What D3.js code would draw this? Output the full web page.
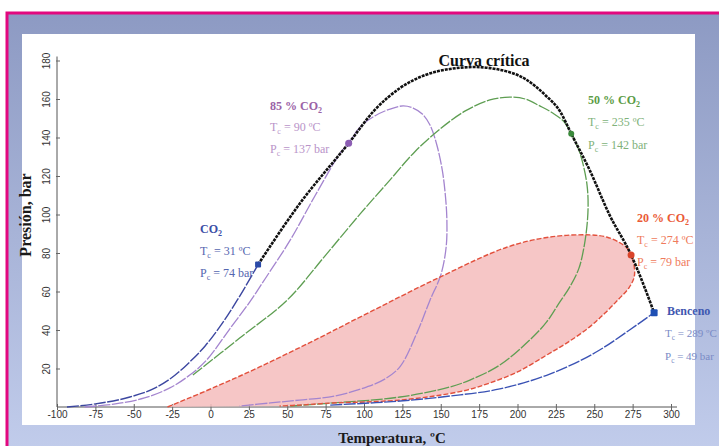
<!DOCTYPE html>
<html>
<head>
<meta charset="utf-8">
<script src="https://cdn.jsdelivr.net/npm/d3@7"></script>
<style>
  html, body { margin: 0; padding: 0; background: #ffffff; }
  svg { display: block; }
</style>
</head>
<body>
<div id="chart"></div>
<script>
// ---------- DATA ----------
const xTicks = [-100, -75, -50, -25, 0, 25, 50, 75, 100, 125, 150, 175, 200, 225, 250, 275, 300];
const yTicks = [20, 40, 60, 80, 100, 120, 140, 160, 180];

// Critical curve (Curva crítica)
const criticalT = [31, 58, 90, 107, 123.5, 140, 156, 172, 189, 205, 218, 228, 235, 247, 260, 274, 289];
const criticalP = [74, 105.5, 137, 154.3, 165.7, 172.5, 175.6, 176.6, 175.1, 170.4, 162.1, 153.2, 142, 123.1, 99.7, 79, 49];

// Pure CO2 vapour-pressure curve
const co2T = [-93.5, -75, -52.5, -36, -23, -13.5, -3.5, 6, 17.5, 31];
const co2P = [0, 1.6, 5.2, 9.9, 16.6, 23.4, 31.7, 41.6, 55.6, 74];

// 85 % CO2 envelope
const p85T = [-82, -62, -43, -26.5, -13.5, -2.5, 12.5, 25.5, 35.5, 52, 68, 84.5, 90,
              97.5, 107, 117, 125.5, 132, 138, 143, 147.5, 151, 153, 154, 153.5, 150, 143, 134.5, 123.5, 113.5, 102, 81, 58, 39, 19];
const p85P = [0, 1.6, 4.7, 9.9, 16.6, 24.4, 40.5, 54.5, 66.5, 86.8, 109.6, 131.9, 137,
              145.5, 151.2, 154.8, 156.4, 155.3, 152.2, 146.5, 136, 123, 110, 97, 83, 68.5, 55.5, 38.5, 21, 14.5, 10.5, 5.7, 3.6, 2.1, 0.5];

// 50 % CO2 envelope
const p50T = [-11.5, 19, 50, 74.5, 97.5, 117, 133, 149.5, 166, 182, 195, 205, 214.5, 223, 230.5, 235,
              239.5, 242.5, 245.3, 246, 245.3, 243.3, 240, 234, 227.5, 219, 208, 188.5, 169, 156, 123.5, 80, 52];
const p50P = [16.6, 35.8, 55.6, 78.4, 100.3, 118, 132.5, 144.4, 153.8, 159.5, 161, 160, 156.4, 152.7, 148, 142,
              134.5, 126.8, 115.3, 105, 94.5, 83, 72, 62.3, 54.5, 44.2, 34.8, 21.8, 14, 10.4, 5.2, 2.1, 0.5];

// 20 % CO2 envelope
const r20T = [-28, 3, 32, 68, 104, 149.5, 193, 221, 247, 258, 267, 272, 274,
              276, 276, 272.5, 266, 257, 247, 232, 218, 200, 182, 167, 146, 123.5, 101, 80, 58, 45];
const r20P = [0, 10.4, 20.8, 34.8, 49.4, 67.5, 83, 88.3, 89.4, 88.3, 85.2, 82.1, 79,
              73.2, 67.5, 61.8, 56.1, 48.8, 41.6, 33.2, 26.5, 18.2, 12.5, 8.8, 5.7, 3.6, 2.6, 2.1, 1, 0.5];

// Benzene vapour-pressure curve
const benzT = [78, 104, 123.5, 156, 188.5, 221, 253.5, 273, 289];
const benzP = [1, 2.1, 3.1, 5.7, 9.4, 17.1, 29.6, 40, 49];

// Critical points
const critNames = ["CO2", "85", "50", "20", "Benceno"];
const critT = [31, 90, 235, 274, 289];
const critP = [74, 137, 142, 79, 49];

// ---------- LAYOUT ----------
const W = 719, H = 446;
const svg = d3.select("#chart").append("svg").attr("width", W).attr("height", H);

const defs = svg.append("defs");
const grad = defs.append("linearGradient").attr("id", "bg").attr("x1", 0).attr("y1", 0).attr("x2", 0).attr("y2", 1);
grad.append("stop").attr("offset", "0%").attr("stop-color", "#8d9ac3");
grad.append("stop").attr("offset", "100%").attr("stop-color", "#c2cdec");

svg.append("rect").attr("x", 0).attr("y", 0).attr("width", W).attr("height", H).attr("fill", "#ffffff");
svg.append("rect").attr("x", 7).attr("y", 13).attr("width", W).attr("height", H)
  .attr("fill", "url(#bg)").attr("stroke", "#e2087f").attr("stroke-width", 3);

// white panel
svg.append("rect").attr("x", 22).attr("y", 34).attr("width", 673).attr("height", 391).attr("fill", "#ffffff");

const x = d3.scaleLinear().domain([-100, 300]).range([57, 671]);
const y = d3.scaleLinear().domain([0, 180]).range([407, 60.5]);

const zip = (a, b) => a.map((v, i) => [v, b[i]]);
const loopLine = d3.line().x(d => x(d[0])).y(d => y(d[1])).curve(d3.curveCatmullRom.alpha(0.5));
const monoLine = d3.line().x(d => x(d[0])).y(d => y(d[1])).curve(d3.curveMonotoneX);

// ---------- AXES ----------
const xAxis = svg.append("g").attr("transform", `translate(0,${y(0)})`)
  .call(d3.axisBottom(x).tickValues(xTicks).tickSizeInner(3).tickSizeOuter(0).tickFormat(d => d));
xAxis.select(".domain").attr("stroke", "#555").attr("d", `M${x(-100)},0H${x(300) + 6}`);
xAxis.selectAll(".tick line").attr("y1", -3).attr("y2", 3).attr("stroke", "#666");
xAxis.selectAll(".tick text").attr("y", 4).attr("dy", "0.71em")
  .attr("font-family", "'Liberation Sans', Arial, sans-serif").attr("font-size", 10).attr("fill", "#333");

const yAxis = svg.append("g").attr("transform", `translate(${x(-100)},0)`)
  .call(d3.axisLeft(y).tickValues(yTicks).tickSizeInner(3).tickSizeOuter(0));
yAxis.select(".domain").attr("stroke", "#555").attr("d", `M0,${y(0)}V${y(180) - 4}`);
yAxis.selectAll(".tick line").attr("x1", -1).attr("x2", 3).attr("stroke", "#666");
yAxis.selectAll(".tick text")
  .attr("x", 0).attr("y", -7).attr("dy", 0)
  .attr("transform", "rotate(-90)")
  .attr("text-anchor", "middle")
  .attr("font-family", "'Liberation Sans', Arial, sans-serif").attr("font-size", 10).attr("fill", "#333");

// ---------- CURVES ----------
const g = svg.append("g");

// 20% CO2 fill
g.append("path").datum(zip(r20T, r20P)).attr("d", loopLine)
  .attr("fill", "#f5bcbc").attr("fill-opacity", 0.85).attr("stroke", "none");

g.append("path").datum(zip(p85T, p85P)).attr("d", loopLine)
  .attr("fill", "none").attr("stroke", "#a485cf").attr("stroke-width", 1.3).attr("stroke-dasharray", "12,1.5");

g.append("path").datum(zip(p50T, p50P)).attr("d", loopLine)
  .attr("fill", "none").attr("stroke", "#5e9e52").attr("stroke-width", 1.3).attr("stroke-dasharray", "12,1.5");

g.append("path").datum(zip(r20T, r20P)).attr("d", loopLine)
  .attr("fill", "none").attr("stroke", "#e2503c").attr("stroke-width", 1.4).attr("stroke-dasharray", "5,2");

g.append("path").datum(zip(co2T, co2P)).attr("d", monoLine)
  .attr("fill", "none").attr("stroke", "#3c47a0").attr("stroke-width", 1.4).attr("stroke-dasharray", "12,1.5");

g.append("path").datum(zip(benzT, benzP)).attr("d", monoLine)
  .attr("fill", "none").attr("stroke", "#3a52b4").attr("stroke-width", 1.4).attr("stroke-dasharray", "12,1.5");

g.append("path").datum(zip(criticalT, criticalP)).attr("d", monoLine)
  .attr("fill", "none").attr("stroke", "#111").attr("stroke-width", 2.6).attr("stroke-dasharray", "3,1");

// critical points
const dotColors = ["#2a4aa8", "#8c5db4", "#3b8a3b", "#d9442a", "#1f50b4"];
critT.forEach((t, i) => {
  if (critNames[i] === "Benceno" || critNames[i] === "CO2") {
    const s = critNames[i] === "CO2" ? 6 : 7;
    g.append("rect").attr("x", x(t) - s / 2).attr("y", y(critP[i]) - s / 2).attr("width", s).attr("height", s)
      .attr("rx", 1).attr("fill", dotColors[i]);
  } else {
    g.append("circle").attr("cx", x(t)).attr("cy", y(critP[i])).attr("r", critNames[i] === "50" ? 3 : 3.5).attr("fill", dotColors[i]);
  }
});

// ---------- LABELS ----------
const serif = "'Liberation Serif', 'Times New Roman', serif";

function titleCO2(xp, yp, prefix, color) {
  const t = svg.append("text").attr("x", xp).attr("y", yp)
    .attr("font-family", serif).attr("font-size", 12).attr("font-weight", "bold").attr("fill", color);
  t.append("tspan").text(prefix + "CO");
  t.append("tspan").attr("font-size", 8).attr("dy", 3).text("2");
}
function tcLine(xp, yp, sym, rest, color, fs) {
  fs = fs || 12;
  const t = svg.append("text").attr("x", xp).attr("y", yp)
    .attr("font-family", serif).attr("font-size", fs).attr("fill", color);
  t.append("tspan").text(sym);
  t.append("tspan").attr("font-size", fs * 0.67).attr("dy", 3).text("c");
  t.append("tspan").attr("dy", -3).text(" = " + rest);
}

titleCO2(270, 110, "85 % ", "#9a62a6");
tcLine(270, 131, "T", "90 ºC", "#b994c9");
tcLine(270, 153, "P", "137 bar", "#b994c9");

titleCO2(588, 104, "50 % ", "#5c9c46");
tcLine(588, 126, "T", "235 ºC", "#80b27a");
tcLine(588, 149, "P", "142 bar", "#80b27a");

titleCO2(200, 233, "", "#3b4ea6");
tcLine(200, 255, "T", "31 ºC", "#5566b0");
tcLine(200, 277, "P", "74 bar", "#5566b0");

titleCO2(637, 222, "20 % ", "#ea5a36");
tcLine(637, 244, "T", "274 ºC", "#ef7b5c");
tcLine(637, 266, "P", "79 bar", "#ef7b5c");

svg.append("text").attr("x", 667).attr("y", 315)
  .attr("font-family", serif).attr("font-size", 12).attr("font-weight", "bold").attr("fill", "#3f57b0").text("Benceno");
tcLine(665, 337, "T", "289 ºC", "#7a8bc6", 11);
tcLine(665, 360, "P", "49 bar", "#7a8bc6", 11);

svg.append("text").attr("x", 484).attr("y", 66).attr("text-anchor", "middle")
  .attr("font-family", serif).attr("font-size", 16).attr("font-weight", "bold").attr("fill", "#111").text("Curva crítica");

svg.append("text").attr("x", 392).attr("y", 443).attr("text-anchor", "middle")
  .attr("font-family", serif).attr("font-size", 15).attr("font-weight", "bold").attr("fill", "#1a1a1a").text("Temperatura, ºC");

svg.append("text").attr("transform", "translate(31,215) rotate(-90)").attr("text-anchor", "middle")
  .attr("font-family", serif).attr("font-size", 16).attr("font-weight", "bold").attr("fill", "#1a1a1a").text("Presión, bar");
</script>
</body>
</html>
